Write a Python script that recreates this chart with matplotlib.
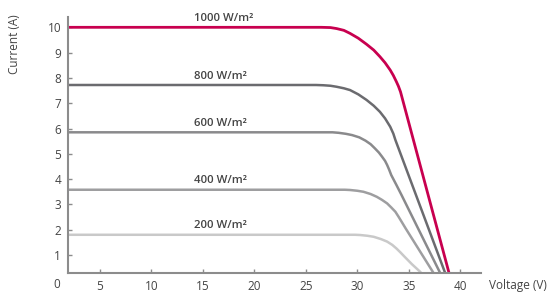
import matplotlib
matplotlib.use("Agg")
import matplotlib.pyplot as plt

plt.rcParams['font.family'] = ['Open Sans', 'DejaVu Sans']

# I-V curves, one per irradiance level
labels = ["1000 W/m²", "800 W/m²", "600 W/m²", "400 W/m²", "200 W/m²"]
colors = ["#c8004f", "#6b6b6f", "#8a8a8c", "#9e9ea0", "#c9c9c9"]

v_1000 = [0, 26.5, 27.4, 28.0, 28.7, 29.3, 30.1, 30.9, 31.6, 32.2, 32.7, 33.2, 33.5, 33.8, 34.0, 34.2, 39.1]
i_1000 = [10.0, 10.0, 9.99, 9.95, 9.88, 9.76, 9.57, 9.33, 9.10, 8.84, 8.60, 8.31, 8.10, 7.85, 7.67, 7.45, 0.0]

v_800 = [0, 26.0, 26.7, 27.4, 28.0, 28.7, 29.3, 30.1, 30.9, 31.6, 32.2, 32.7, 33.2, 33.5, 33.7, 38.8]
i_800 = [7.72, 7.72, 7.71, 7.69, 7.65, 7.59, 7.52, 7.35, 7.13, 6.90, 6.66, 6.40, 6.07, 5.80, 5.55, 0.0]

v_600 = [0, 27.6, 28.2, 28.9, 29.5, 30.2, 30.8, 31.3, 31.7, 32.1, 32.4, 32.7, 32.9, 33.1, 33.3, 33.8, 34.3, 38.4]
i_600 = [5.85, 5.85, 5.83, 5.79, 5.74, 5.65, 5.52, 5.38, 5.22, 5.05, 4.89, 4.72, 4.56, 4.37, 4.16, 3.77, 3.37, 0.0]

v_400 = [0, 28.8, 29.3, 30.0, 30.6, 31.3, 31.9, 32.4, 32.9, 33.3, 33.7, 34.0, 34.3, 34.7, 35.1, 37.85]
i_400 = [3.58, 3.58, 3.57, 3.54, 3.50, 3.41, 3.30, 3.18, 3.04, 2.88, 2.71, 2.52, 2.32, 2.05, 1.79, 0.0]

v_200 = [0, 29.8, 30.3, 31.0, 31.6, 32.3, 32.9, 33.4, 33.8, 34.2, 34.6, 35.3, 36.1, 36.5]
i_200 = [1.80, 1.80, 1.79, 1.76, 1.72, 1.63, 1.53, 1.40, 1.26, 1.10, 0.93, 0.64, 0.34, 0.15]

curves = [(v_1000, i_1000), (v_800, i_800), (v_600, i_600), (v_400, i_400), (v_200, i_200)]

x_ticks = [5, 10, 15, 20, 25, 30, 35, 40]
y_ticks = [1, 2, 3, 4, 5, 6, 7, 8, 9, 10]

axis_color = "#8c8c8c"
text_color = "#444444"

fig = plt.figure(figsize=(5.54, 2.92), dpi=100)
ax = fig.add_axes([0.1227, 0.066, 0.868 - 0.1227, 0.942 - 0.066])

for (v, i), c, lab in zip(curves, colors, labels):
    lw = 2.0 if c == colors[0] else 1.8
    ax.plot(v, i, color=c, lw=lw, solid_joinstyle='round', solid_capstyle='butt')
    ax.annotate(lab, xy=(14.15, i[0]), xytext=(0, 2.5), textcoords='offset points',
                ha='left', va='bottom', fontsize=8.2, fontweight='semibold', color=text_color)

ax.set_xlim(1.92, 42.0)
ax.set_ylim(0.30, 10.41)
ax.set_xticks(x_ticks)
ax.set_yticks(y_ticks)

for s in ['top', 'right']:
    ax.spines[s].set_visible(False)
for s in ['left', 'bottom']:
    ax.spines[s].set_color(axis_color)
    ax.spines[s].set_linewidth(1.5)

ax.tick_params(axis='both', direction='in', length=3, width=1, color=axis_color,
               labelsize=8.5, labelcolor=text_color)
ax.tick_params(axis='x', pad=5)
ax.tick_params(axis='y', pad=5)

# shared origin label, axis titles
fig.text(57 / 554, 1 - 285 / 292, "0", ha='center', va='center', fontsize=8.5, color=text_color)
fig.text(489 / 554, 1 - 286 / 292, "Voltage (V)", ha='left', va='center', fontsize=8.5, color=text_color)
fig.text(15 / 554, 1 - 44 / 292, "Current (A)", ha='center', va='center', rotation=90,
         fontsize=8.5, color=text_color)

fig.savefig("out.png", dpi=100)
